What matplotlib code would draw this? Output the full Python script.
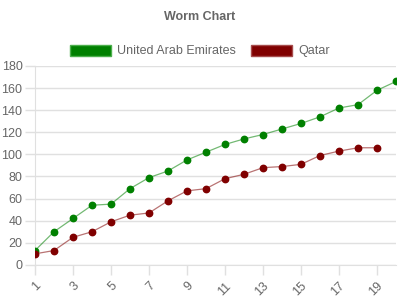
import matplotlib

matplotlib.use("Agg")
import matplotlib.pyplot as plt  # noqa: E402
from matplotlib.patches import Patch  # noqa: E402

plt.rcParams["font.family"] = ["Liberation Sans", "DejaVu Sans"]

labels = list(range(1, 21))
uae = [13, 30, 42, 54, 55, 69, 79, 85, 95, 102, 109, 114, 118, 123, 128, 134, 142, 145, 158, 166]
qatar = [10, 13, 25, 30, 39, 45, 47, 58, 67, 69, 78, 82, 88, 89, 91, 99, 103, 106, 106]
series_names = ["United Arab Emirates", "Qatar"]
colors = ["#008000", "#800000"]
edge_colors = ["#4caf4c", "#a64c4c"]
y_ticks = list(range(0, 181, 20))

grey = "#666666"
grid = "#e0e0e0"

fig = plt.figure(figsize=(4, 3), dpi=100)
ax = fig.add_axes([0.0875, 0.117, 0.9025, 0.663])

for vals, col in zip([uae, qatar], colors):
    xs = labels[: len(vals)]
    ax.plot(xs, vals, color=col, alpha=0.55, linewidth=0.9, zorder=2)
    ax.plot(xs, vals, linestyle="none", marker="o", markersize=4.6,
            markerfacecolor=col, markeredgecolor=col, zorder=3)

ax.set_xlim(1, 20)
ax.set_ylim(0, 180)
ax.set_yticks(y_ticks)
ax.set_xticks(labels[::2])
ax.set_xticklabels([str(v) for v in labels[::2]], rotation=45, ha="right",
                   rotation_mode="anchor", color=grey, fontsize=9)
ax.set_yticklabels([str(v) for v in y_ticks], color=grey, fontsize=9)
ax.yaxis.grid(True, color=grid, linewidth=1)
ax.set_axisbelow(True)
for side in ["top", "right"]:
    ax.spines[side].set_visible(False)
ax.spines["left"].set_color(grid)
ax.spines["bottom"].set_color(grid)
ax.tick_params(axis="y", color=grid, length=7, width=1, pad=2)
ax.tick_params(axis="x", color=grid, length=7, width=1, pad=4)

fig.text(0.5, 0.945, "Worm Chart", ha="center", va="center",
         fontsize=9, fontweight="bold", color=grey)

handles = [Patch(facecolor=c, edgecolor=e, linewidth=1) for c, e in zip(colors, edge_colors)]
leg = fig.legend(handles, series_names, loc="center", bbox_to_anchor=(0.5, 0.83),
                 ncol=2, frameon=False, fontsize=9, handlelength=3.3,
                 handleheight=1.0, columnspacing=1.2, handletextpad=0.5)
for t in leg.get_texts():
    t.set_color(grey)

fig.savefig("out.png", dpi=100)
